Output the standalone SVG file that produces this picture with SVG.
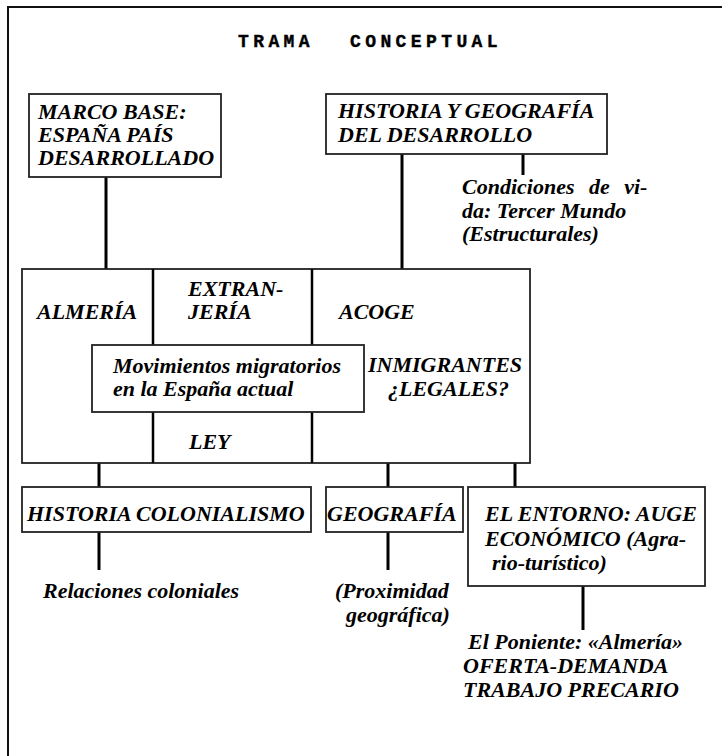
<svg xmlns="http://www.w3.org/2000/svg" width="722" height="756" viewBox="0 0 722 756">
<style>
.bg{fill:#ffffff}
.frame{fill:none;stroke:#111;stroke-width:2}
.box{fill:#ffffff;stroke:#222;stroke-width:1.8}
.conn{stroke:#000;stroke-width:3;fill:none}
.div{stroke:#000;stroke-width:2.5;fill:none}
.t{font-family:"Liberation Serif","Times New Roman",serif;font-weight:bold;font-style:italic;font-size:22px;fill:#000}
.title{font-family:"Liberation Mono","Courier New",monospace;font-weight:bold;font-size:18px;letter-spacing:4.4px;fill:#000;stroke:#000;stroke-width:0.4}
</style>
<rect class="bg" x="0" y="0" width="722" height="756"/>
<path class="frame" d="M8,756 V7 H722"/>
<g id="title">
<text class="title" x="238" y="47">TRAMA</text>
<text class="title" x="350" y="47">CONCEPTUAL</text>
</g>
<g id="connectors">
<line class="conn" x1="106" y1="177" x2="106" y2="269"/>
<line class="conn" x1="402" y1="154" x2="402" y2="269"/>
<line class="conn" x1="523" y1="154" x2="523" y2="175"/>
<line class="conn" x1="99" y1="463" x2="99" y2="487"/>
<line class="conn" x1="388" y1="463" x2="388" y2="487"/>
<line class="conn" x1="515" y1="463" x2="515" y2="487"/>
<line class="conn" x1="99" y1="532" x2="99" y2="570"/>
<line class="conn" x1="388" y1="532" x2="388" y2="570"/>
<line class="conn" x1="583" y1="586" x2="583" y2="630"/>
</g>
<g id="marco-base">
<rect class="box" x="29" y="94" width="192" height="83"/>
<text class="t" x="38" y="119">MARCO BASE:</text>
<text class="t" x="38" y="142">ESPAÑA PAÍS</text>
<text class="t" x="38" y="165">DESARROLLADO</text>
</g>
<g id="historia-geografia">
<rect class="box" x="326" y="94" width="281" height="60"/>
<text class="t" x="338" y="118">HISTORIA Y GEOGRAFÍA</text>
<text class="t" x="338" y="142">DEL DESARROLLO</text>
</g>
<g id="condiciones">
<text class="t" x="462" y="194" word-spacing="9">Condiciones de vi-</text>
<text class="t" x="462" y="218">da: Tercer Mundo</text>
<text class="t" x="462" y="241">(Estructurales)</text>
</g>
<g id="main-box">
<rect class="box" x="22" y="269" width="508" height="194" stroke-width="2"/>
<line class="div" x1="153" y1="269" x2="153" y2="345"/>
<line class="div" x1="153" y1="412" x2="153" y2="463"/>
<line class="div" x1="312" y1="269" x2="312" y2="345"/>
<line class="div" x1="312" y1="412" x2="312" y2="463"/>
<text class="t" x="37" y="319">ALMERÍA</text>
<text class="t" x="188" y="296">EXTRAN-</text>
<text class="t" x="188" y="319">JERÍA</text>
<text class="t" x="339" y="319">ACOGE</text>
<text class="t" x="368" y="372">INMIGRANTES</text>
<text class="t" x="388" y="396">¿LEGALES?</text>
<text class="t" x="189" y="449">LEY</text>
</g>
<g id="movimientos">
<rect class="box" x="92" y="345" width="272" height="67"/>
<text class="t" x="113" y="373">Movimientos migratorios</text>
<text class="t" x="113" y="396">en la España actual</text>
</g>
<g id="historia-colonialismo">
<rect class="box" x="22" y="487" width="289" height="45"/>
<text class="t" x="27" y="521">HISTORIA COLONIALISMO</text>
</g>
<g id="relaciones">
<text class="t" x="43" y="598">Relaciones coloniales</text>
</g>
<g id="geografia">
<rect class="box" x="326" y="487" width="137" height="45"/>
<text class="t" x="327" y="521">GEOGRAFÍA</text>
</g>
<g id="proximidad">
<text class="t" x="335" y="598">(Proximidad</text>
<text class="t" x="346" y="622">geográfica)</text>
</g>
<g id="entorno">
<rect class="box" x="468" y="487" width="237" height="99"/>
<text class="t" x="485" y="521">EL ENTORNO: AUGE</text>
<text class="t" x="485" y="546">ECONÓMICO (Agra-</text>
<text class="t" x="492" y="570">rio-turístico)</text>
</g>
<g id="poniente">
<text class="t" x="468" y="649">El Poniente: «Almería»</text>
<text class="t" x="463" y="673">OFERTA-DEMANDA</text>
<text class="t" x="463" y="697">TRABAJO PRECARIO</text>
</g>
</svg>
